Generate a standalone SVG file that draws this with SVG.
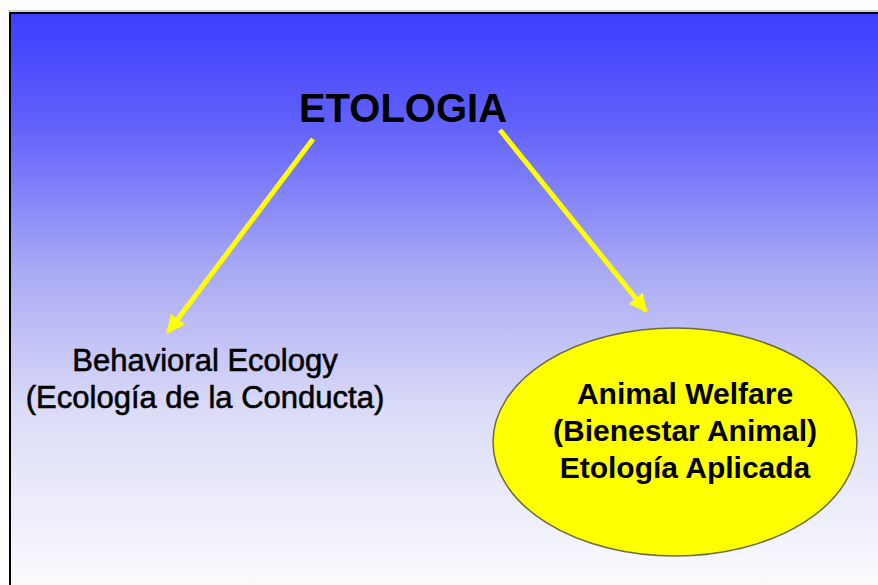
<svg xmlns="http://www.w3.org/2000/svg" width="878" height="585" viewBox="0 0 878 585">
  <defs>
    <linearGradient id="bg" x1="0" y1="12" x2="0" y2="585" gradientUnits="userSpaceOnUse">
      <stop offset="0" stop-color="#3c3cff"/>
      <stop offset="0.2" stop-color="#6262fb"/>
      <stop offset="0.45" stop-color="#a9a9f5"/>
      <stop offset="0.7" stop-color="#dcdcf8"/>
      <stop offset="1" stop-color="#fbfbfd"/>
    </linearGradient>
    <marker id="arrow" viewBox="0 0 10 10" refX="9" refY="5" markerWidth="20" markerHeight="18" markerUnits="userSpaceOnUse" orient="auto">
      <path d="M0,0 L10,5 L0,10 z" fill="#ffff00"/>
    </marker>
    <style>
      .conn { stroke: #ffff00; stroke-width: 5; fill: none; marker-end: url(#arrow); }
      .title { font-family: "Liberation Sans", Arial, sans-serif; font-weight: bold; font-size: 40px; fill: #000; }
      .lbl { font-family: "Liberation Sans", Arial, sans-serif; font-size: 31px; fill: #000; stroke: #000; stroke-width: 0.6; }
      .lblb { font-family: "Liberation Sans", Arial, sans-serif; font-weight: bold; font-size: 30px; fill: #000; }
    </style>
  </defs>
  <rect x="0" y="0" width="878" height="585" fill="#ffffff"/>
  <line x1="8" y1="11" x2="878" y2="11" stroke="#a0a0a0" stroke-width="1"/>
  <rect x="10" y="13" width="880" height="590" fill="url(#bg)" stroke="#000" stroke-width="2"/>

  <g id="connectors">
    <line class="conn" x1="313" y1="139" x2="168" y2="332"/>
    <line class="conn" x1="500" y1="130" x2="646" y2="311"/>
  </g>

  <g id="etologia">
    <text class="title" x="403" y="122" text-anchor="middle">ETOLOGIA</text>
  </g>

  <g id="behavioral-ecology">
    <text class="lbl" x="205" y="371" text-anchor="middle">Behavioral Ecology</text>
    <text class="lbl" x="205" y="408" text-anchor="middle">(Ecología de la Conducta)</text>
  </g>

  <g id="animal-welfare">
    <ellipse cx="675" cy="442" rx="182" ry="114" fill="#ffff00" stroke="#6b6b3a" stroke-width="1.5"/>
    <text class="lblb" x="685" y="404" text-anchor="middle">Animal Welfare</text>
    <text class="lblb" x="685" y="441" text-anchor="middle">(Bienestar Animal)</text>
    <text class="lblb" x="685" y="478" text-anchor="middle">Etología Aplicada</text>
  </g>
</svg>
